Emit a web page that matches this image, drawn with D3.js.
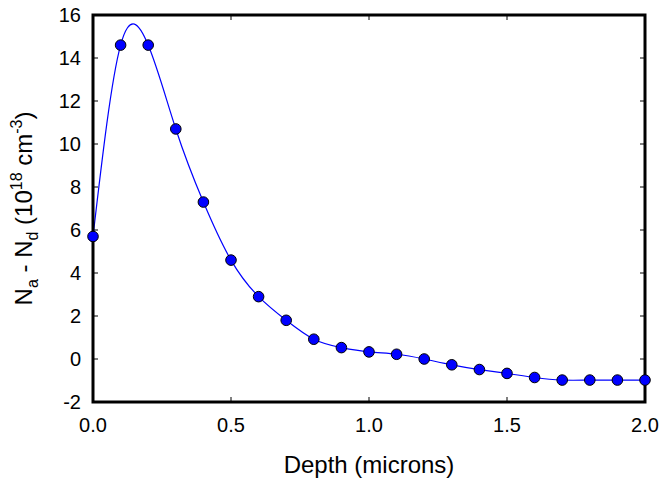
<!DOCTYPE html>
<html>
<head>
<meta charset="utf-8">
<script src="https://cdn.jsdelivr.net/npm/d3@7"></script>
<style>
  body { margin: 0; background: #fff; }
  text { font-family: "Liberation Sans", Arial, sans-serif; fill: #000; }
</style>
</head>
<body>
<div id="chart"></div>
<script>
// depth (microns) and net doping (1e18 cm^-3)
var depth = [0.0, 0.1, 0.2, 0.3, 0.4, 0.5, 0.6, 0.7, 0.8, 0.9, 1.0,
             1.1, 1.2, 1.3, 1.4, 1.5, 1.6, 1.7, 1.8, 1.9, 2.0];
var doping = [5.7, 14.6, 14.6, 10.7, 7.3, 4.6, 2.9, 1.8, 0.92, 0.53, 0.33,
              0.22, 0.0, -0.27, -0.49, -0.67, -0.86, -0.98, -0.98, -0.98, -0.98];
var xTicks = [0, 0.5, 1.0, 1.5, 2.0];
var yTicks = [-2, 0, 2, 4, 6, 8, 10, 12, 14, 16];

var width = 660, height = 481;
var plotLeft = 93, plotRight = 645, plotTop = 15, plotBottom = 402;

var svg = d3.select("#chart").append("svg")
  .attr("width", width)
  .attr("height", height);

var x = d3.scaleLinear().domain([0, 2]).range([plotLeft, plotRight]);
var y = d3.scaleLinear().domain([-2, 16]).range([plotBottom, plotTop]);

var data = depth.map((d, i) => ({ x: d, y: doping[i] }));

/* inward ticks on all four sides */
var tickLen = 5;
var ticks = svg.append("g").attr("stroke", "#000").attr("stroke-width", 1);
xTicks.forEach(function (t) {
  ticks.append("line").attr("x1", x(t)).attr("x2", x(t))
    .attr("y1", plotBottom).attr("y2", plotBottom - tickLen);
  ticks.append("line").attr("x1", x(t)).attr("x2", x(t))
    .attr("y1", plotTop).attr("y2", plotTop + tickLen);
});
yTicks.forEach(function (t) {
  ticks.append("line").attr("x1", plotLeft).attr("x2", plotLeft + tickLen)
    .attr("y1", y(t)).attr("y2", y(t));
  ticks.append("line").attr("x1", plotRight).attr("x2", plotRight - tickLen)
    .attr("y1", y(t)).attr("y2", y(t));
});

/* curve */
var line = d3.line()
  .curve(d3.curveNatural)
  .x((d) => x(d.x))
  .y((d) => y(d.y));

svg.append("path")
  .datum(data)
  .attr("d", line)
  .attr("fill", "none")
  .attr("stroke", "#0000ff")
  .attr("stroke-width", 1.2);

/* frame */
svg.append("rect")
  .attr("x", plotLeft).attr("y", plotTop)
  .attr("width", plotRight - plotLeft).attr("height", plotBottom - plotTop)
  .attr("fill", "none")
  .attr("stroke", "#000")
  .attr("stroke-width", 3);

/* points */
svg.append("g").selectAll("circle")
  .data(data)
  .enter()
  .append("circle")
  .attr("cx", (d) => x(d.x))
  .attr("cy", (d) => y(d.y))
  .attr("r", 5.3)
  .attr("fill", "#0000ff")
  .attr("stroke", "#000")
  .attr("stroke-width", 1);

/* tick labels */
svg.append("g").selectAll("text")
  .data(xTicks)
  .enter()
  .append("text")
  .attr("x", (d) => x(d))
  .attr("y", 432)
  .attr("text-anchor", "middle")
  .style("font-size", "20px")
  .text((d) => d3.format(".1f")(d));

svg.append("g").selectAll("text")
  .data(yTicks)
  .enter()
  .append("text")
  .attr("x", 81)
  .attr("y", (d) => y(d))
  .attr("dy", "0.35em")
  .attr("text-anchor", "end")
  .style("font-size", "20px")
  .text((d) => d);

/* axis titles */
svg.append("text")
  .attr("x", (plotLeft + plotRight) / 2)
  .attr("y", 473)
  .attr("text-anchor", "middle")
  .style("font-size", "24px")
  .text("Depth (microns)");

var yt = svg.append("text")
  .attr("transform", `translate(32, ${(plotTop + plotBottom) / 2}) rotate(-90)`)
  .attr("text-anchor", "middle")
  .style("font-size", "24px");
yt.append("tspan").text("N");
yt.append("tspan").attr("dy", 6).style("font-size", "16px").text("a");
yt.append("tspan").attr("dy", -6).text(" - N");
yt.append("tspan").attr("dy", 6).style("font-size", "16px").text("d");
yt.append("tspan").attr("dy", -6).text(" (10");
yt.append("tspan").attr("dy", -10).style("font-size", "16px").text("18");
yt.append("tspan").attr("dy", 10).text(" cm");
yt.append("tspan").attr("dy", -10).style("font-size", "16px").text("-3");
yt.append("tspan").attr("dy", 10).text(")");
</script>
</body>
</html>
